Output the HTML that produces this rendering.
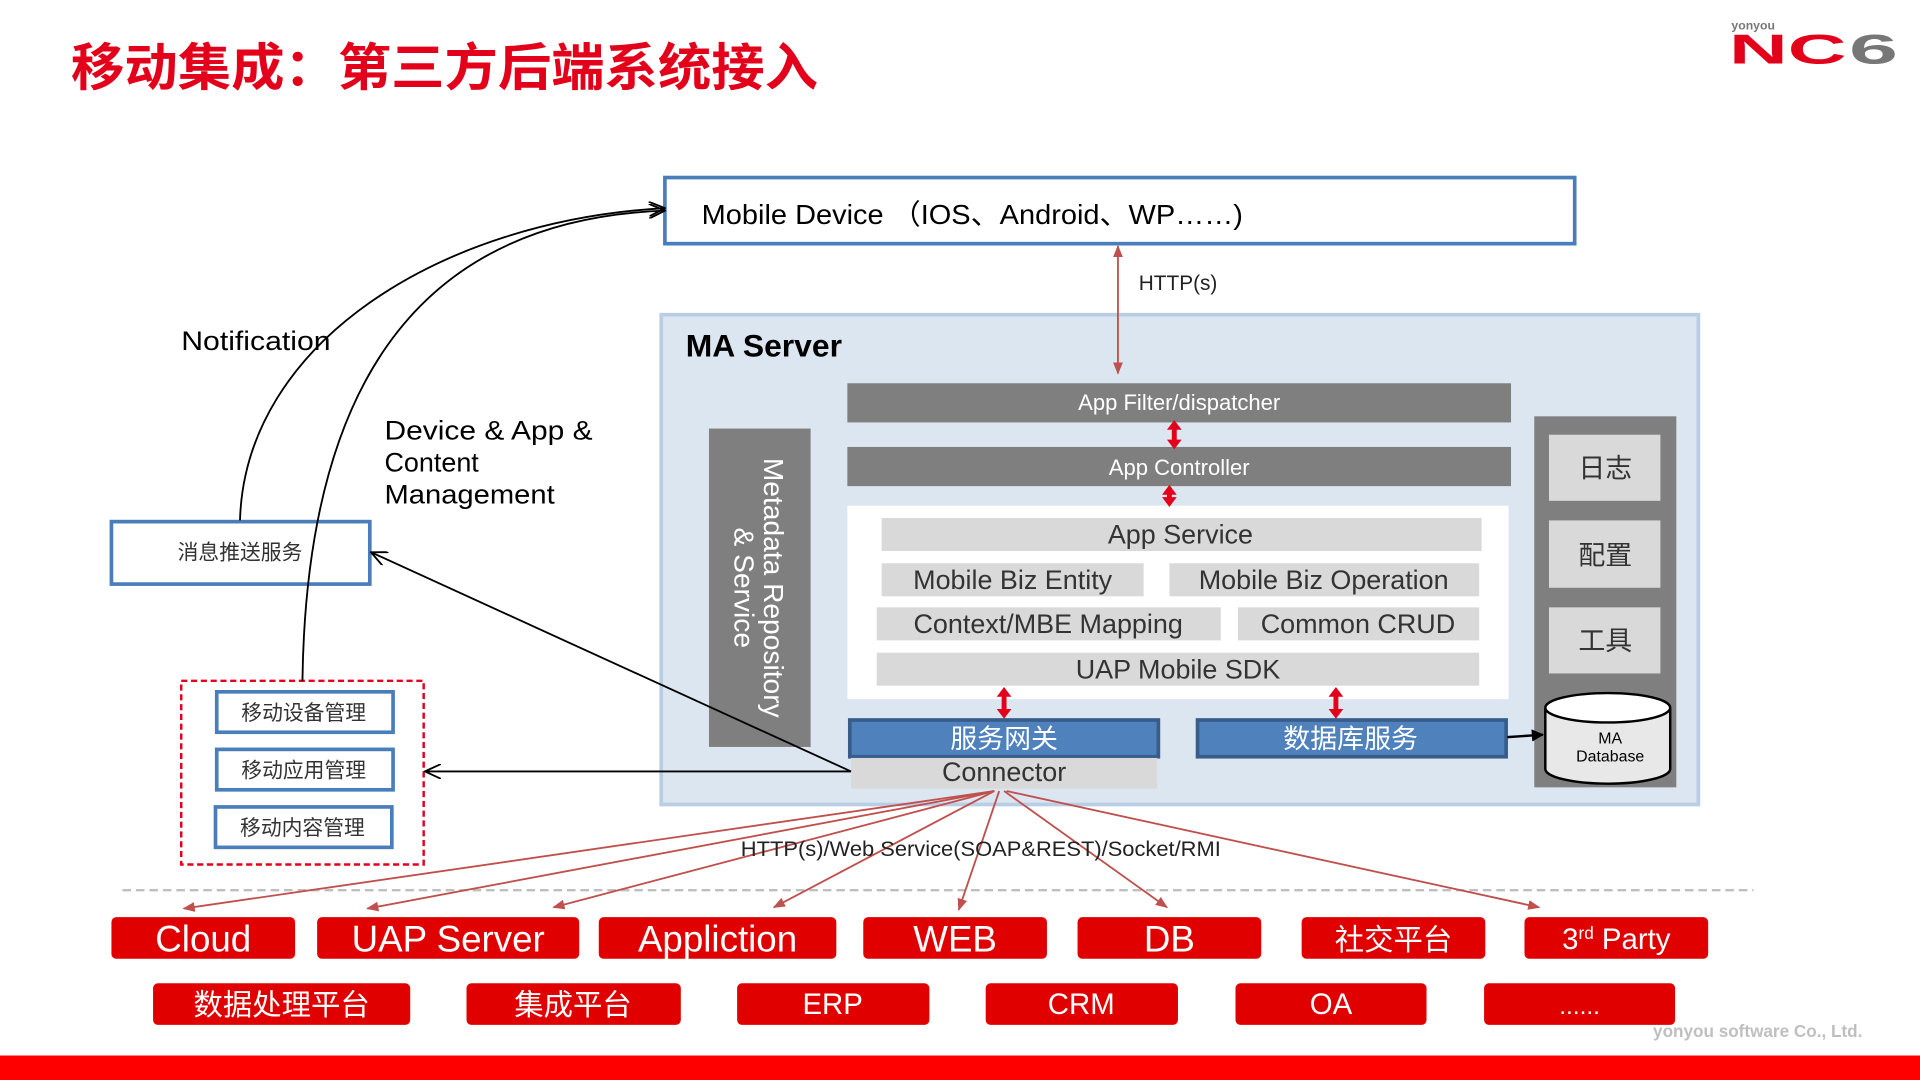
<!DOCTYPE html>
<html><head><meta charset="utf-8"><style>
html,body{margin:0;padding:0;background:#fff;}
svg{display:block;}
text{font-family:"Liberation Sans","Noto Sans CJK SC",sans-serif;}
</style></head><body>
<svg width="1920" height="1080" viewBox="0 0 1568 882" xmlns="http://www.w3.org/2000/svg">
<defs>
<marker id="ar" markerWidth="10" markerHeight="8" refX="9" refY="4" orient="auto" markerUnits="userSpaceOnUse"><path d="M0,0 L10,4 L0,8 z" fill="#c0504d"/></marker>
<marker id="ar2" markerWidth="10" markerHeight="8" refX="9" refY="4" orient="auto-start-reverse" markerUnits="userSpaceOnUse"><path d="M0,0 L10,4 L0,8 z" fill="#c0504d"/></marker>
<marker id="ab" markerWidth="14" markerHeight="12" refX="13" refY="6" orient="auto" markerUnits="userSpaceOnUse"><path d="M0,0 L13,6 L0,12" fill="none" stroke="#000" stroke-width="1.5"/></marker>
<marker id="abf" markerWidth="10" markerHeight="10" refX="9" refY="5" orient="auto" markerUnits="userSpaceOnUse"><path d="M0,0 L10,5 L0,10 z" fill="#000"/></marker>
</defs>
<!-- title -->
<text x="58" y="70" font-size="42" font-weight="bold" fill="#e3001b" textLength="610" lengthAdjust="spacingAndGlyphs">移动集成：第三方后端系统接入</text>
<!-- logo -->
<text x="1414" y="24" font-size="10" font-weight="bold" fill="#777">yonyou</text>
<text x="1412" y="52" font-size="34" font-weight="bold" fill="#e3001b" textLength="96" lengthAdjust="spacingAndGlyphs">NC</text>
<text x="1510" y="52" font-size="34" font-weight="bold" fill="#777" textLength="40" lengthAdjust="spacingAndGlyphs">6</text>
<!-- mobile device -->
<rect x="543" y="145" width="743" height="54" fill="#fff" stroke="#4a7ebb" stroke-width="3"/>
<text x="573" y="183" font-size="23" fill="#000" textLength="442" lengthAdjust="spacingAndGlyphs">Mobile Device （IOS、Android、WP……)</text>
<!-- MA server -->
<rect x="540" y="257" width="847" height="400" fill="#dce6f1" stroke="#b9cde5" stroke-width="3"/>
<text x="560" y="291" font-size="26" font-weight="bold" fill="#000">MA Server</text>
<line x1="913" y1="201" x2="913" y2="305" stroke="#c0504d" stroke-width="1.5" marker-end="url(#ar2)" marker-start="url(#ar2)"/>
<text x="930" y="237" font-size="17" fill="#222">HTTP(s)</text>
<rect x="692" y="313" width="542" height="32" fill="#7f7f7f"/>
<text x="963" y="335" font-size="18" fill="#fff" text-anchor="middle">App  Filter/dispatcher</text>
<rect x="692" y="365" width="542" height="32" fill="#7f7f7f"/>
<text x="963" y="388" font-size="18" fill="#fff" text-anchor="middle">App Controller</text>
<rect x="692" y="413" width="540" height="158" fill="#fff"/>
<g fill="#d9d9d9">
<rect x="720" y="423" width="490" height="27"/>
<rect x="720" y="460" width="214" height="27"/>
<rect x="955" y="460" width="253" height="27"/>
<rect x="716" y="496" width="281" height="27"/>
<rect x="1011" y="496" width="197" height="27"/>
<rect x="716" y="533" width="492" height="27"/>
</g>
<g font-size="22" fill="#333" text-anchor="middle">
<text x="964" y="444">App Service</text>
<text x="827" y="481">Mobile Biz Entity</text>
<text x="1081" y="481">Mobile Biz Operation</text>
<text x="856" y="517">Context/MBE Mapping</text>
<text x="1109" y="517">Common CRUD</text>
<text x="962" y="554">UAP Mobile SDK</text>
</g>
<rect x="579" y="350" width="83" height="260" fill="#7f7f7f"/>
<g transform="translate(620,480) rotate(90)" fill="#fff" font-size="23" text-anchor="middle">
<text x="0" y="-4">Metadata Repository</text>
<text x="0" y="20">&amp; Service</text>
</g>
<rect x="1253" y="340" width="116" height="303" fill="#7f7f7f"/>
<g fill="#d9d9d9"><rect x="1265" y="355" width="91" height="54"/><rect x="1265" y="425" width="91" height="55"/><rect x="1265" y="496" width="91" height="54"/></g>
<g font-size="22" fill="#333" text-anchor="middle"><text x="1311" y="390">日志</text><text x="1311" y="461">配置</text><text x="1311" y="531">工具</text></g>
<path d="M1262,578 L1262,628 A51,12 0 0 0 1364,628 L1364,578" fill="#e8e8e8" stroke="#000" stroke-width="2"/>
<ellipse cx="1313" cy="578" rx="51" ry="12" fill="#fff" stroke="#000" stroke-width="2"/>
<text x="1315" y="607" font-size="13" text-anchor="middle">MA</text>
<text x="1315" y="622" font-size="13" text-anchor="middle">Database</text>
<rect x="694" y="588" width="252" height="30" fill="#4f81bd" stroke="#385d8a" stroke-width="3"/>
<rect x="978" y="588" width="252" height="30" fill="#4f81bd" stroke="#385d8a" stroke-width="3"/>
<text x="820" y="611" font-size="22" fill="#fff" text-anchor="middle">服务网关</text>
<text x="1103" y="611" font-size="22" fill="#fff" text-anchor="middle">数据库服务</text>
<rect x="695" y="619" width="250" height="25" fill="#d9d9d9"/>
<text x="820" y="638" font-size="22" fill="#333" text-anchor="middle">Connector</text>
<line x1="1231" y1="602" x2="1260" y2="600" stroke="#000" stroke-width="2" marker-end="url(#abf)"/>
<g fill="#e3001b">
<path d="M959,343 L965,351 L961,351 L961,359 L965,359 L959,367 L953,359 L957,359 L957,351 L953,351 Z"/>
<path d="M955,396 L961,404 L957,404 L957,406 L961,406 L955,414 L949,406 L953,406 L953,404 L949,404 Z"/>
<path d="M820,561 L826,569 L822,569 L822,579 L826,579 L820,587 L814,579 L818,579 L818,569 L814,569 Z"/>
<path d="M1091,561 L1097,569 L1093,569 L1093,579 L1097,579 L1091,587 L1085,579 L1089,579 L1089,569 L1085,569 Z"/>
</g>
<!-- left side -->
<rect x="91" y="426" width="211" height="51" fill="#fff" stroke="#4a7ebb" stroke-width="3"/>
<text x="196" y="457" font-size="17" fill="#333" text-anchor="middle">消息推送服务</text>
<rect x="148" y="556" width="198" height="150" fill="none" stroke="#e3001b" stroke-width="2" stroke-dasharray="5,3"/>
<g fill="#fff" stroke="#4a7ebb" stroke-width="3">
<rect x="177" y="565" width="144" height="33"/><rect x="177" y="612" width="144" height="33"/><rect x="176" y="659" width="144" height="33"/>
</g>
<g font-size="17" fill="#333" text-anchor="middle"><text x="248" y="588">移动设备管理</text><text x="248" y="635">移动应用管理</text><text x="247" y="682">移动内容管理</text></g>
<path d="M196,425 C200,280 360,180 543,170" fill="none" stroke="#000" stroke-width="1.5" marker-end="url(#ab)"/>
<path d="M247,556 C250,330 330,180 543,172" fill="none" stroke="#000" stroke-width="1.5" marker-end="url(#ab)"/>
<text x="148" y="286" font-size="22" fill="#000" textLength="122" lengthAdjust="spacingAndGlyphs">Notification</text>
<g font-size="22" fill="#000"><text x="314" y="359" textLength="170" lengthAdjust="spacingAndGlyphs">Device &amp; App &amp;</text><text x="314" y="385">Content</text><text x="314" y="411" textLength="139" lengthAdjust="spacingAndGlyphs">Management</text></g>
<line x1="695" y1="630" x2="303" y2="451" stroke="#000" stroke-width="1.5" marker-end="url(#ab)"/>
<line x1="695" y1="630" x2="347" y2="630" stroke="#000" stroke-width="1.5" marker-end="url(#ab)"/>
<!-- bottom -->
<line x1="100" y1="727" x2="1432" y2="727" stroke="#bfbfbf" stroke-width="2" stroke-dasharray="7,4"/>
<g stroke="#c0504d" stroke-width="1.5" marker-end="url(#ar)">
<line x1="812" y1="646" x2="150" y2="742"/>
<line x1="812" y1="646" x2="300" y2="742"/>
<line x1="812" y1="646" x2="452" y2="741"/>
<line x1="812" y1="646" x2="632" y2="741"/>
<line x1="816" y1="646" x2="783" y2="743"/>
<line x1="820" y1="646" x2="953" y2="741"/>
<line x1="822" y1="646" x2="1257" y2="741"/>
</g>
<text x="605" y="699" font-size="17" fill="#222" textLength="392" lengthAdjust="spacingAndGlyphs">HTTP(s)/Web Service(SOAP&amp;REST)/Socket/RMI</text>
<g fill="#e00000">
<rect x="91" y="749" width="150" height="34" rx="4"/><rect x="259" y="749" width="214" height="34" rx="4"/><rect x="489" y="749" width="194" height="34" rx="4"/><rect x="705" y="749" width="150" height="34" rx="4"/><rect x="880" y="749" width="150" height="34" rx="4"/><rect x="1063" y="749" width="150" height="34" rx="4"/><rect x="1245" y="749" width="150" height="34" rx="4"/>
<rect x="125" y="803" width="210" height="34" rx="4"/><rect x="381" y="803" width="175" height="34" rx="4"/><rect x="602" y="803" width="157" height="34" rx="4"/><rect x="805" y="803" width="157" height="34" rx="4"/><rect x="1009" y="803" width="156" height="34" rx="4"/><rect x="1212" y="803" width="156" height="34" rx="4"/>
</g>
<g fill="#fff" text-anchor="middle" font-size="30">
<text x="166" y="777">Cloud</text><text x="366" y="777">UAP Server</text><text x="586" y="777">Appliction</text><text x="780" y="777">WEB</text><text x="955" y="777">DB</text>
<text x="1138" y="776" font-size="24">社交平台</text>
<text x="1320" y="775" font-size="24">3<tspan font-size="14" dy="-8">rd</tspan><tspan dy="8"> Party</tspan></text>
<text x="230" y="829" font-size="24">数据处理平台</text><text x="468" y="829" font-size="24">集成平台</text>
<text x="680" y="828" font-size="24">ERP</text><text x="883" y="828" font-size="24">CRM</text><text x="1087" y="828" font-size="24">OA</text><text x="1290" y="828" font-size="20">......</text>
</g>
<text x="1350" y="847" font-size="14" font-weight="bold" fill="#bfbfbf">yonyou software Co., Ltd.</text>
<rect x="0" y="862" width="1568" height="20" fill="#ff0000"/>
</svg>
</body></html>
